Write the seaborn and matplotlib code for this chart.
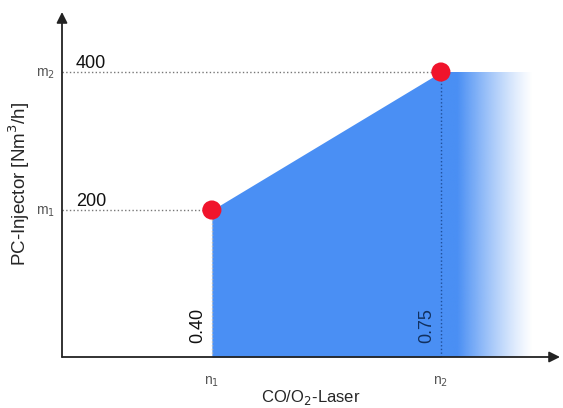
import numpy as np
import pandas as pd
import seaborn as sns
import matplotlib.pyplot as plt

# operating points
laserVals = [0.40, 0.75]
injectorVals = [200, 400]
xTickLabels = ['n$_1$', 'n$_2$']
yTickLabels = ['m$_1$', 'm$_2$']
xValueLabels = ['0.40', '0.75']
yValueLabels = ['200', '400']
fadeEnd = 0.89  # where the blue region fades out to the right

sns.set_theme(style="white")
plt.rcParams['font.family'] = ['Liberation Sans', 'DejaVu Sans']

fig = plt.figure(figsize=(5.63, 4.08), dpi=100)
ax = fig.add_axes([62 / 563, 51 / 408, 498 / 563, 345 / 408])
xMin, xMax = 0.171, 0.932
yMin, yMax = -13, 487

blue = '#4a8ff4'

# solid region between the two points
ax.fill_between(laserVals, [yMin, yMin], injectorVals, color=blue, lw=0, zorder=1)

# fading region to the right of the second point
grad = np.linspace(0, 1, 300)
alpha = np.clip(1 - (grad - 0.18) / 0.82, 0, 1) ** 1.2
rgba = np.zeros((2, 300, 4))
rgba[..., :3] = plt.matplotlib.colors.to_rgb(blue)
rgba[..., 3] = alpha
ax.imshow(rgba, extent=[laserVals[1], fadeEnd, yMin, injectorVals[1]],
          aspect='auto', interpolation='bilinear', zorder=1)
ax.set_xlim(xMin, xMax)
ax.set_ylim(yMin, yMax)

# guide lines
for x, y in zip(laserVals, injectorVals):
    ax.plot([xMin, x], [y, y], ls=':', color='#777777', lw=1, zorder=2)
ax.plot([laserVals[0]] * 2, [yMin, injectorVals[0]], ls=':', color='#bbbbbb', lw=1, zorder=2)
ax.plot([laserVals[1]] * 2, [yMin, injectorVals[1]], ls=':', color='#1f4f9a', lw=1, zorder=2)

pts = pd.DataFrame({'laser': laserVals, 'injector': injectorVals})
sns.scatterplot(data=pts, x='laser', y='injector', ax=ax, s=190,
                color='#f0142c', edgecolor='none', zorder=4, legend=False)

# value annotations
for y, lbl in zip(injectorVals, yValueLabels):
    ax.annotate(lbl, xy=(0, y), xycoords=('axes fraction', 'data'),
                xytext=(10, 0), textcoords='offset points',
                fontsize=13, color='#111111', va='bottom', ha='left')
valColors = ['#111111', '#12305e']
for x, lbl, c in zip(laserVals, xValueLabels, valColors):
    ax.annotate(lbl, xy=(x, 0), xycoords=('data', 'axes fraction'),
                xytext=(-4, 10), textcoords='offset points', rotation=90,
                fontsize=13, color=c, va='bottom', ha='right')

ax.set_xticks(laserVals)
ax.set_xticklabels(xTickLabels, fontsize=10, color='#555555')
ax.set_yticks(injectorVals)
ax.set_yticklabels(yTickLabels, fontsize=10, color='#555555')
ax.tick_params(axis='x', length=0, pad=13)
ax.tick_params(axis='y', length=0, pad=5)

ax.set_xlabel('CO/O$_2$-Laser', fontsize=12, labelpad=-1)
ax.set_ylabel('PC-Injector [Nm$^3$/h]', fontsize=13.5, labelpad=3)

for s in ax.spines.values():
    s.set_visible(False)

# axis arrows
ax.annotate('', xy=(1.0, 0), xytext=(0, 0), xycoords='axes fraction',
            arrowprops=dict(arrowstyle='-|>', color='#222222', lw=1.3,
                            mutation_scale=16, shrinkA=0, shrinkB=0))
ax.annotate('', xy=(0, 1.0), xytext=(0, 0), xycoords='axes fraction',
            arrowprops=dict(arrowstyle='-|>', color='#222222', lw=1.3,
                            mutation_scale=16, shrinkA=0, shrinkB=0))

plt.savefig('out.png', dpi=100)
